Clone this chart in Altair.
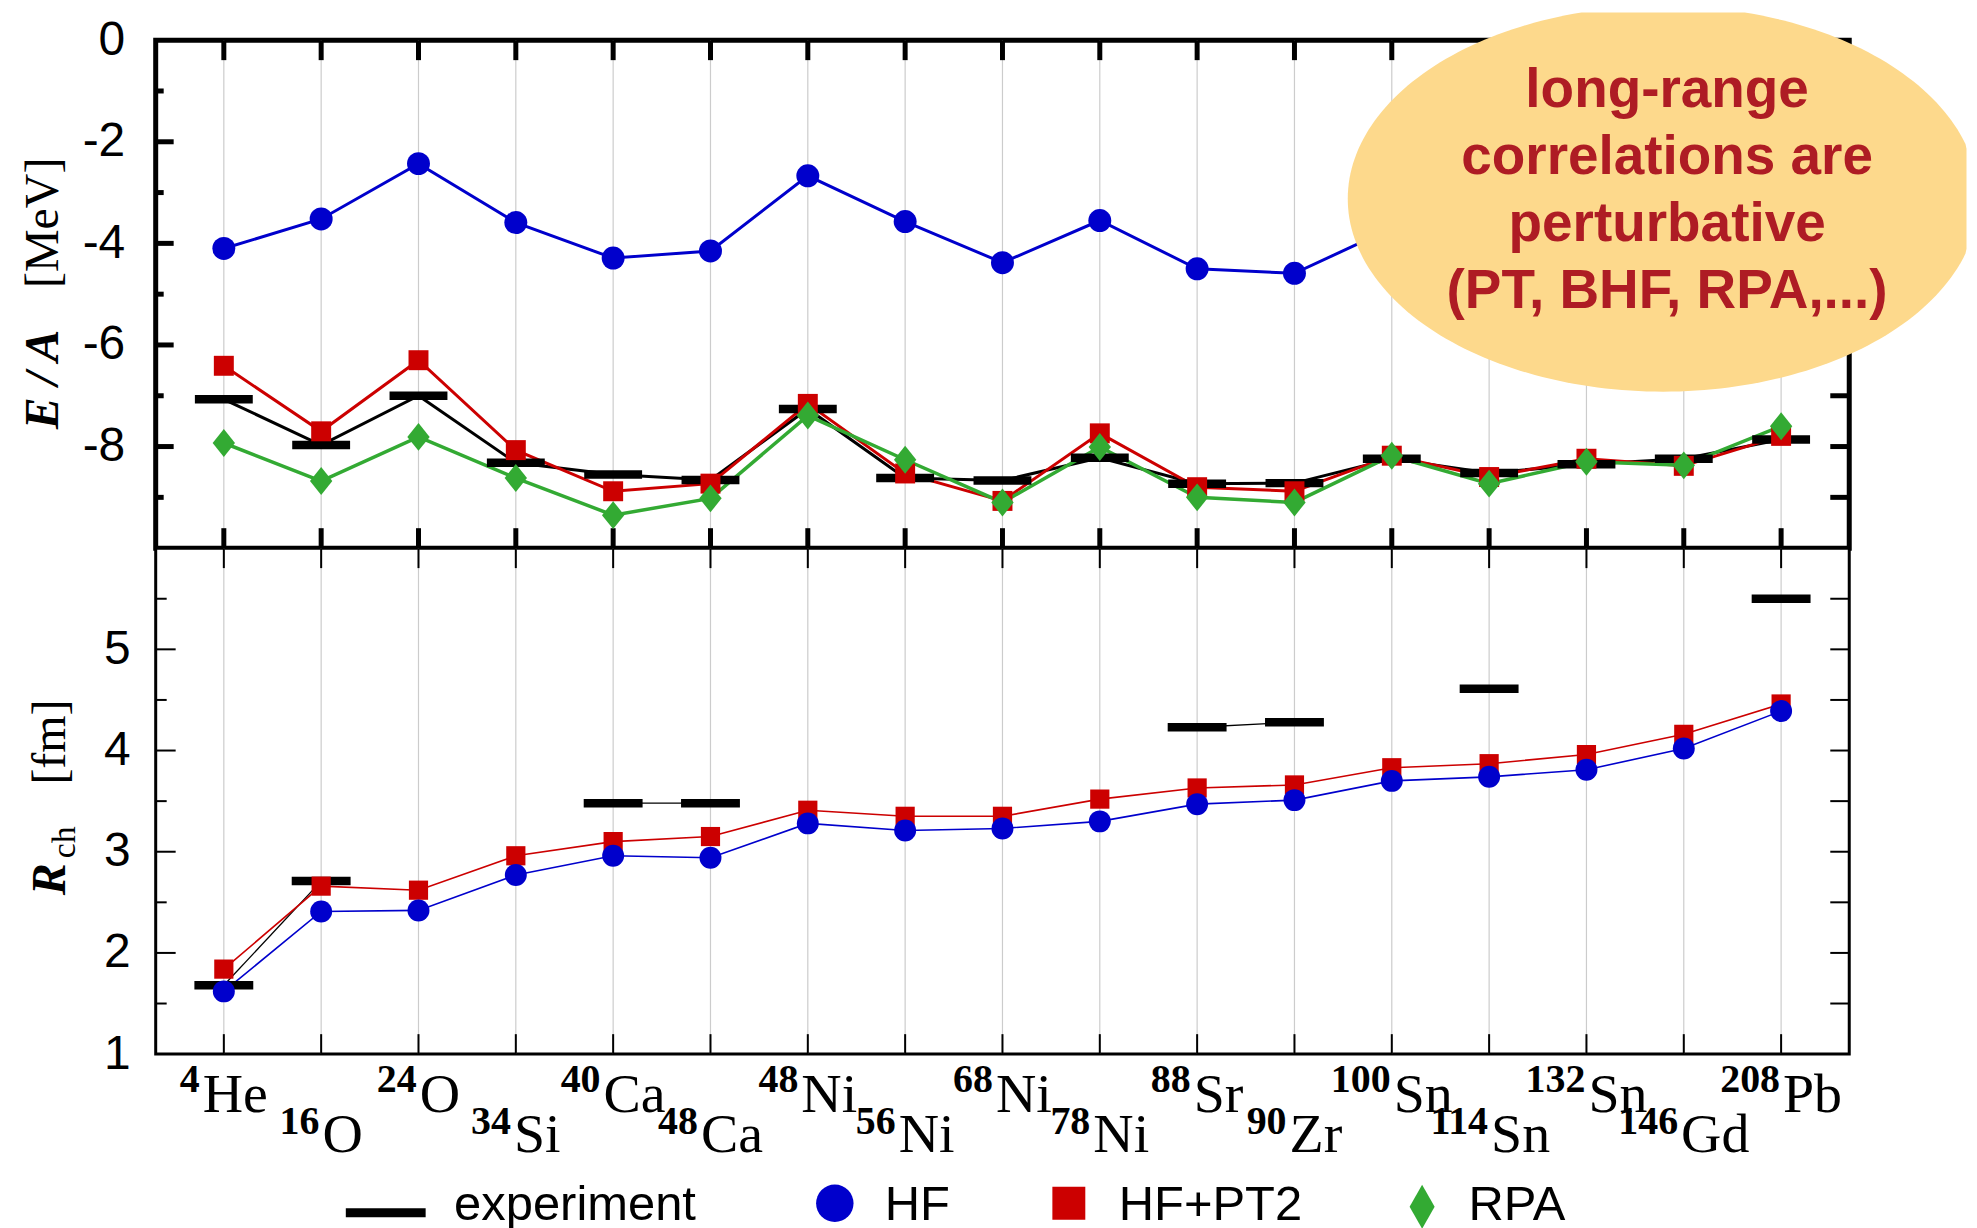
import altair as alt
import numpy as np
import pandas as pd

# ---------------- data ----------------
MASS = ["4", "16", "24", "34", "40", "48", "48", "56", "68", "78", "88", "90", "100", "114", "132", "146", "208"]
ELEMENT = ["He", "O", "O", "Si", "Ca", "Ca", "Ni", "Ni", "Ni", "Ni", "Sr", "Zr", "Sn", "Sn", "Sn", "Gd", "Pb"]

EA_EXP = [-7.07, -7.97, -7.00, -8.32, -8.55, -8.66, -7.26, -8.62, -8.67, -8.22, -8.73, -8.72, -8.24, -8.52, -8.35, -8.24, -7.86]
EA_HF = [-4.10, -3.52, -2.43, -3.59, -4.29, -4.15, -2.67, -3.57, -4.38, -3.55, -4.50, -4.59, -3.70, -4.25, -4.05, -4.35, -4.15]
EA_PT2 = [-6.41, -7.70, -6.30, -8.07, -8.88, -8.73, -7.16, -8.53, -9.07, -7.74, -8.80, -8.88, -8.18, -8.60, -8.24, -8.38, -7.79]
EA_RPA = [-7.93, -8.68, -7.81, -8.62, -9.35, -9.02, -7.39, -8.26, -9.10, -8.01, -9.00, -9.10, -8.18, -8.73, -8.30, -8.37, -7.60]

R_EXP = [1.68, 2.71, None, None, 3.48, 3.48, None, None, None, None, 4.23, 4.28, None, 4.61, None, None, 5.50]
R_HF = [1.62, 2.41, 2.42, 2.77, 2.96, 2.94, 3.28, 3.21, 3.23, 3.30, 3.47, 3.51, 3.70, 3.74, 3.81, 4.02, 4.39]
R_PT2 = [1.84, 2.66, 2.62, 2.96, 3.10, 3.15, 3.41, 3.35, 3.35, 3.52, 3.63, 3.66, 3.83, 3.87, 3.96, 4.16, 4.46]

EA_LABELS = [0, -2, -4, -6, -8]
EA_MAJOR = [-2, -4, -6, -8]
EA_MINOR = [-1, -3, -5, -7, -9]
EA_RIGHT = [-1, -2, -3, -4, -5, -6, -7, -8, -9]
R_LABELS = [1, 2, 3, 4, 5]
R_MAJOR = [2, 3, 4, 5]
R_MINOR = [1.5, 2.5, 3.5, 4.5, 5.5]
R_RIGHT = [1.5, 2, 2.5, 3, 3.5, 4, 4.5, 5, 5.5]

SERIES = ["experiment", "HF", "HF+PT2", "RPA"]
COLORS = {"experiment": "#000000", "HF": "#0000CC", "HF+PT2": "#CC0000", "RPA": "#33AA33"}
ANNOTATION = ["long-range", "correlations are", "perturbative", "(PT, BHF, RPA,...)"]

# ---------------- layout / style ----------------
W, H_TOP, H_BOT = 1697, 509, 507
X_DOMAIN = [-0.7, 16.7]
PX_PER_UNIT = W / (X_DOMAIN[1] - X_DOMAIN[0])
SANS = "Liberation Sans"
SERIF = "Liberation Serif"
FS_EL, FS_SUP = 56, 40
GRID = "#cccccc"
ELL_FILL = "#FDD98C"
ELL_TEXT = "#AE1C24"

TIMES_W = {"H": 722, "e": 444, "O": 722, "S": 556, "i": 278, "C": 667, "a": 444, "N": 722,
           "r": 333, "Z": 611, "n": 500, "G": 722, "d": 500, "P": 556, "b": 500}

DIAMOND = "M0,-1L0.8,0L0,1L-0.8,0Z"
DIAMOND_TALL = "M0,-1L0.57,0L0,1L-0.57,0Z"

# annotation bubble: ellipse (pixels, relative to the top panel) cut by the page edges
ELL_CX, ELL_CY, ELL_RX, ELL_RY = 1510.5, 158.9, 316.0, 193.3
ELL_TOP_CUT, ELL_RIGHT_CUT = -27.7, 1814.5
ELL_SCALE = 320.0
_t = np.linspace(0, 2 * np.pi, 241)[:-1]
_px = np.minimum(ELL_RX * np.cos(_t), ELL_RIGHT_CUT - ELL_CX)
_py = np.maximum(ELL_RY * np.sin(_t), ELL_TOP_CUT - ELL_CY)
ELLIPSE = "M" + "L".join(f"{a / ELL_SCALE:.4f},{b / ELL_SCALE:.4f}" for a, b in zip(_px, _py)) + "Z"

ONE = pd.DataFrame({"k": [0]})
IDX = list(range(len(MASS)))

top_df = pd.DataFrame({"idx": IDX, "exp": EA_EXP, "hf": EA_HF, "pt2": EA_PT2, "rpa": EA_RPA})
bot_df = pd.DataFrame({"idx": IDX, "exp": R_EXP, "hf": R_HF, "pt2": R_PT2})

# segments of consecutive experimental radii (gaps where no data)
seg, s, prev = [], 0, None
for v in R_EXP:
    if v is not None and prev is None:
        s += 1
    seg.append(s if v is not None else None)
    prev = v
bot_df["seg"] = seg
bot_exp = bot_df.dropna(subset=["exp"])

# x labels: superscript + element, centred on the category
lab = pd.DataFrame({"idx": IDX, "mass": MASS, "elem": ELEMENT})
lab["row"] = lab["idx"] % 2
w_sup = lab["mass"].str.len() * 0.5 * FS_SUP
w_el = lab["elem"].apply(lambda t: sum(TIMES_W[c] for c in t) / 1000 * FS_EL)
lab["xj"] = lab["idx"] + (w_sup - w_el) / 2 / PX_PER_UNIT


def xenc(field="idx"):
    return alt.X(f"{field}:Q", scale=alt.Scale(domain=X_DOMAIN, nice=False, zero=False), axis=None)


def yenc(field, domain, values, pad):
    return alt.Y(f"{field}:Q", scale=alt.Scale(domain=domain, nice=False, zero=False),
                 axis=alt.Axis(values=values, title=None, ticks=False, domain=False, grid=False,
                               labelPadding=pad, labelFont=SANS, labelFontSize=48,
                               labelExpr="'' + datum.value",
                               labelColor="black", labelOverlap=False))


def ytop(field):
    return yenc(field, [-10, 0], EA_LABELS, 31)


def ybot(field):
    return yenc(field, [1, 6], R_LABELS, 25.5)


def frame_layers(H, yfun, major, minor, right, tw, ylen_major, ylen_minor):
    grid = alt.Chart(top_df).mark_rule(color=GRID, strokeWidth=1.2).encode(
        x=xenc(), y=alt.value(0), y2=alt.value(H))
    xt_top = alt.Chart(top_df).mark_rule(color="black", strokeWidth=tw).encode(
        x=xenc(), y=alt.value(0), y2=alt.value(20))
    xt_bot = alt.Chart(top_df).mark_rule(color="black", strokeWidth=tw).encode(
        x=xenc(), y=alt.value(H - 20), y2=alt.value(H))
    ymaj = alt.Chart(pd.DataFrame({"v": major})).mark_rule(color="black", strokeWidth=tw).encode(
        y=yfun("v"), x=alt.value(0), x2=alt.value(ylen_major))
    ymin = alt.Chart(pd.DataFrame({"v": minor})).mark_rule(color="black", strokeWidth=tw).encode(
        y=yfun("v"), x=alt.value(0), x2=alt.value(ylen_minor))
    yr = alt.Chart(pd.DataFrame({"v": right})).mark_rule(color="black", strokeWidth=tw).encode(
        y=yfun("v"), x=alt.value(W - 19), x2=alt.value(W))
    return [grid, xt_top, xt_bot, ymaj, ymin, yr]


# ---------------- top panel: E/A ----------------
top_layers = frame_layers(H_TOP, ytop, EA_MAJOR, EA_MINOR, EA_RIGHT, 5, 18, 8)
base_t = alt.Chart(top_df)
top_layers += [
    base_t.mark_line(color=COLORS["experiment"], strokeWidth=3).encode(x=xenc(), y=ytop("exp")),
    base_t.mark_line(color=COLORS["HF+PT2"], strokeWidth=3).encode(x=xenc(), y=ytop("pt2")),
    base_t.mark_line(color=COLORS["RPA"], strokeWidth=3.5).encode(x=xenc(), y=ytop("rpa")),
    base_t.mark_line(color=COLORS["HF"], strokeWidth=3).encode(x=xenc(), y=ytop("hf")),
    base_t.mark_tick(orient="horizontal", size=58, thickness=8.5, color="black", opacity=1).encode(
        x=xenc(), y=ytop("exp")),
    base_t.mark_point(shape="square", filled=True, size=400, color=COLORS["HF+PT2"], opacity=1).encode(
        x=xenc(), y=ytop("pt2")),
    base_t.mark_point(shape=DIAMOND, filled=True, size=784, color=COLORS["RPA"], opacity=1).encode(
        x=xenc(), y=ytop("rpa")),
    base_t.mark_point(shape="circle", filled=True, size=529, color=COLORS["HF"], opacity=1).encode(
        x=xenc(), y=ytop("hf")),
    # annotation bubble
    alt.Chart(ONE).mark_point(shape=ELLIPSE, filled=True, size=(2 * ELL_SCALE) ** 2, color=ELL_FILL,
                              opacity=1, strokeWidth=0).encode(x=alt.value(ELL_CX), y=alt.value(ELL_CY)),
    alt.Chart(ONE).mark_text(font=SANS, fontWeight="bold", fontSize=55, color=ELL_TEXT, align="center",
                             baseline="alphabetic", lineHeight=67).encode(
        x=alt.value(1514.5), y=alt.value(67.3), text=alt.value(ANNOTATION)),
    # axis title  E / A  [MeV]
    alt.Chart(ONE).mark_text(font=SERIF, fontSize=48, angle=270, align="center", baseline="alphabetic",
                             color="black").encode(x=alt.value(-98), y=alt.value(183), text=alt.value("[MeV]")),
    alt.Chart(ONE).mark_text(font=SERIF, fontSize=48, fontStyle="italic", fontWeight="bold", angle=270,
                             align="center", baseline="alphabetic", color="black").encode(
        x=alt.value(-98), y=alt.value(340), text=alt.value("E / A")),
    # invisible anchor that fixes the left edge of the drawing
    alt.Chart(ONE).mark_rule(strokeOpacity=0, strokeWidth=1).encode(
        x=alt.value(-145.5), y=alt.value(200), y2=alt.value(210)),
]
top = alt.layer(*top_layers).properties(
    width=W, height=H_TOP, view=alt.ViewBackground(stroke="black", strokeWidth=5, fill="white"))

# ---------------- bottom panel: R_ch ----------------
bot_layers = frame_layers(H_BOT, ybot, R_MAJOR, R_MINOR, R_RIGHT, 2, 20, 11)
base_b = alt.Chart(bot_df)
bot_layers += [
    alt.Chart(bot_exp).mark_line(color="black", strokeWidth=1.3).encode(
        x=xenc(), y=ybot("exp"), detail="seg:N"),
    base_b.mark_line(color=COLORS["HF+PT2"], strokeWidth=1.6).encode(x=xenc(), y=ybot("pt2")),
    base_b.mark_line(color=COLORS["HF"], strokeWidth=1.6).encode(x=xenc(), y=ybot("hf")),
    alt.Chart(bot_exp).mark_tick(orient="horizontal", size=59, thickness=8.5, color="black", opacity=1).encode(
        x=xenc(), y=ybot("exp")),
    base_b.mark_point(shape="square", filled=True, size=370, color=COLORS["HF+PT2"], opacity=1).encode(
        x=xenc(), y=ybot("pt2")),
    base_b.mark_point(shape="circle", filled=True, size=484, color=COLORS["HF"], opacity=1).encode(
        x=xenc(), y=ybot("hf")),
]

# nucleus labels (two staggered rows)
ROW_Y = {0: (544.8, 564.8), 1: (587.3, 605.3)}
for r, (ysup, yel) in ROW_Y.items():
    sub = alt.Chart(lab).transform_filter(f"datum.row == {r}")
    bot_layers.append(sub.mark_text(font=SERIF, fontWeight="bold", fontSize=FS_SUP, align="right",
                                    baseline="alphabetic", dx=-1.5, color="black").encode(
        x=xenc("xj"), y=alt.value(ysup), text="mass:N"))
    bot_layers.append(sub.mark_text(font=SERIF, fontSize=FS_EL, align="left",
                                    baseline="alphabetic", dx=1.5, color="black").encode(
        x=xenc("xj"), y=alt.value(yel), text="elem:N"))

# legend
LEG_TEXT_Y = 673
bot_layers += [
    alt.Chart(ONE).mark_rule(color=COLORS["experiment"], strokeWidth=9).encode(
        x=alt.value(190.5), x2=alt.value(270.5), y=alt.value(666)),
    alt.Chart(ONE).mark_point(shape="circle", filled=True, size=1406, color=COLORS["HF"], opacity=1).encode(
        x=alt.value(680.5), y=alt.value(656.5)),
    alt.Chart(ONE).mark_point(shape="square", filled=True, size=1089, color=COLORS["HF+PT2"], opacity=1).encode(
        x=alt.value(915), y=alt.value(656.5)),
    alt.Chart(ONE).mark_point(shape=DIAMOND_TALL, filled=True, size=1936, color=COLORS["RPA"], opacity=1).encode(
        x=alt.value(1269), y=alt.value(660)),
]
for name, xpos in zip(SERIES, [299, 730.5, 965, 1315.5]):
    bot_layers.append(alt.Chart(ONE).mark_text(font=SANS, fontSize=49, align="left", baseline="alphabetic",
                                               color="black").encode(
        x=alt.value(xpos), y=alt.value(LEG_TEXT_Y), text=alt.value(name)))

# axis title  R_ch  [fm]
bot_layers += [
    alt.Chart(ONE).mark_text(font=SERIF, fontSize=48, angle=270, align="center", baseline="alphabetic",
                             color="black").encode(x=alt.value(-91), y=alt.value(194.3), text=alt.value("[fm]")),
    alt.Chart(ONE).mark_text(font=SERIF, fontSize=48, fontStyle="italic", fontWeight="bold", angle=270,
                             align="center", baseline="alphabetic", color="black").encode(
        x=alt.value(-91), y=alt.value(331.8), text=alt.value("R")),
    alt.Chart(ONE).mark_text(font=SERIF, fontSize=34, angle=270, align="center", baseline="alphabetic",
                             color="black").encode(x=alt.value(-81), y=alt.value(294.8), text=alt.value("ch")),
]
bottom = alt.layer(*bot_layers).properties(
    width=W, height=H_BOT, view=alt.ViewBackground(stroke="black", strokeWidth=3, fill="white"))

chart = alt.vconcat(top, bottom, spacing=0, bounds="flush").properties(padding=0)
chart.save("out.html", embed_options={"renderer": "svg", "actions": False})
